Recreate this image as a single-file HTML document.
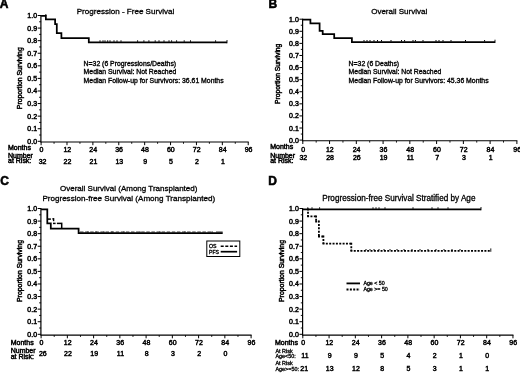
<!DOCTYPE html>
<html lang="en">
<head>
<meta charset="utf-8">
<title>Survival curves</title>
<style>
html,body{margin:0;padding:0;background:#fff;}
body{width:520px;height:373px;overflow:hidden;}
svg{display:block;font-family:'Liberation Sans', 'DejaVu Sans', sans-serif;fill:#000;}
</style>
</head>
<body>
<svg width="520" height="373" viewBox="0 0 520 373">
<rect x="0" y="0" width="520" height="373" fill="#fff"/>
<g id="panelA">
<text transform="translate(-0.20 8.30) scale(1.0 1)" font-size="12.000" text-anchor="start" font-weight="bold" stroke="#000" stroke-width="0.55" >A</text>
<text transform="translate(125.50 14.30) scale(1.0 1)" font-size="8.050" text-anchor="middle" font-weight="normal" stroke="#000" stroke-width="0.3" >Progression - Free Survival</text>
<line x1="40.90" y1="15.00" x2="40.90" y2="142.50" stroke="#000" stroke-width="1.2" />
<line x1="40.60" y1="142.00" x2="248.72" y2="142.00" stroke="#000" stroke-width="1.1" />
<line x1="37.70" y1="141.30" x2="41.10" y2="141.30" stroke="#000" stroke-width="1.0" />
<text transform="translate(37.10 143.80) scale(1.05 1)" font-size="6.667" text-anchor="end" font-weight="normal" stroke="#000" stroke-width="0.45" >0.0</text>
<line x1="39.10" y1="135.01" x2="41.10" y2="135.01" stroke="#000" stroke-width="0.9" />
<line x1="37.70" y1="128.72" x2="41.10" y2="128.72" stroke="#000" stroke-width="1.0" />
<text transform="translate(37.10 131.22) scale(1.05 1)" font-size="6.667" text-anchor="end" font-weight="normal" stroke="#000" stroke-width="0.45" >0.1</text>
<line x1="39.10" y1="122.43" x2="41.10" y2="122.43" stroke="#000" stroke-width="0.9" />
<line x1="37.70" y1="116.14" x2="41.10" y2="116.14" stroke="#000" stroke-width="1.0" />
<text transform="translate(37.10 118.64) scale(1.05 1)" font-size="6.667" text-anchor="end" font-weight="normal" stroke="#000" stroke-width="0.45" >0.2</text>
<line x1="39.10" y1="109.85" x2="41.10" y2="109.85" stroke="#000" stroke-width="0.9" />
<line x1="37.70" y1="103.56" x2="41.10" y2="103.56" stroke="#000" stroke-width="1.0" />
<text transform="translate(37.10 106.06) scale(1.05 1)" font-size="6.667" text-anchor="end" font-weight="normal" stroke="#000" stroke-width="0.45" >0.3</text>
<line x1="39.10" y1="97.27" x2="41.10" y2="97.27" stroke="#000" stroke-width="0.9" />
<line x1="37.70" y1="90.98" x2="41.10" y2="90.98" stroke="#000" stroke-width="1.0" />
<text transform="translate(37.10 93.48) scale(1.05 1)" font-size="6.667" text-anchor="end" font-weight="normal" stroke="#000" stroke-width="0.45" >0.4</text>
<line x1="39.10" y1="84.69" x2="41.10" y2="84.69" stroke="#000" stroke-width="0.9" />
<line x1="37.70" y1="78.40" x2="41.10" y2="78.40" stroke="#000" stroke-width="1.0" />
<text transform="translate(37.10 80.90) scale(1.05 1)" font-size="6.667" text-anchor="end" font-weight="normal" stroke="#000" stroke-width="0.45" >0.5</text>
<line x1="39.10" y1="72.11" x2="41.10" y2="72.11" stroke="#000" stroke-width="0.9" />
<line x1="37.70" y1="65.82" x2="41.10" y2="65.82" stroke="#000" stroke-width="1.0" />
<text transform="translate(37.10 68.32) scale(1.05 1)" font-size="6.667" text-anchor="end" font-weight="normal" stroke="#000" stroke-width="0.45" >0.6</text>
<line x1="39.10" y1="59.53" x2="41.10" y2="59.53" stroke="#000" stroke-width="0.9" />
<line x1="37.70" y1="53.24" x2="41.10" y2="53.24" stroke="#000" stroke-width="1.0" />
<text transform="translate(37.10 55.74) scale(1.05 1)" font-size="6.667" text-anchor="end" font-weight="normal" stroke="#000" stroke-width="0.45" >0.7</text>
<line x1="39.10" y1="46.95" x2="41.10" y2="46.95" stroke="#000" stroke-width="0.9" />
<line x1="37.70" y1="40.66" x2="41.10" y2="40.66" stroke="#000" stroke-width="1.0" />
<text transform="translate(37.10 43.16) scale(1.05 1)" font-size="6.667" text-anchor="end" font-weight="normal" stroke="#000" stroke-width="0.45" >0.8</text>
<line x1="39.10" y1="34.37" x2="41.10" y2="34.37" stroke="#000" stroke-width="0.9" />
<line x1="37.70" y1="28.08" x2="41.10" y2="28.08" stroke="#000" stroke-width="1.0" />
<text transform="translate(37.10 30.58) scale(1.05 1)" font-size="6.667" text-anchor="end" font-weight="normal" stroke="#000" stroke-width="0.45" >0.9</text>
<line x1="39.10" y1="21.79" x2="41.10" y2="21.79" stroke="#000" stroke-width="0.9" />
<line x1="37.70" y1="15.50" x2="41.10" y2="15.50" stroke="#000" stroke-width="1.0" />
<text transform="translate(37.10 18.00) scale(1.05 1)" font-size="6.667" text-anchor="end" font-weight="normal" stroke="#000" stroke-width="0.45" >1.0</text>
<line x1="41.10" y1="142.00" x2="41.10" y2="145.20" stroke="#000" stroke-width="1.0" />
<text transform="translate(41.40 152.00) scale(1.05 1)" font-size="6.667" text-anchor="middle" font-weight="normal" stroke="#000" stroke-width="0.45" >0</text>
<line x1="54.05" y1="142.00" x2="54.05" y2="143.80" stroke="#000" stroke-width="0.9" />
<line x1="66.99" y1="142.00" x2="66.99" y2="145.20" stroke="#000" stroke-width="1.0" />
<text transform="translate(67.29 152.00) scale(1.05 1)" font-size="6.667" text-anchor="middle" font-weight="normal" stroke="#000" stroke-width="0.45" >12</text>
<line x1="79.94" y1="142.00" x2="79.94" y2="143.80" stroke="#000" stroke-width="0.9" />
<line x1="92.88" y1="142.00" x2="92.88" y2="145.20" stroke="#000" stroke-width="1.0" />
<text transform="translate(93.18 152.00) scale(1.05 1)" font-size="6.667" text-anchor="middle" font-weight="normal" stroke="#000" stroke-width="0.45" >24</text>
<line x1="105.82" y1="142.00" x2="105.82" y2="143.80" stroke="#000" stroke-width="0.9" />
<line x1="118.77" y1="142.00" x2="118.77" y2="145.20" stroke="#000" stroke-width="1.0" />
<text transform="translate(119.07 152.00) scale(1.05 1)" font-size="6.667" text-anchor="middle" font-weight="normal" stroke="#000" stroke-width="0.45" >36</text>
<line x1="131.72" y1="142.00" x2="131.72" y2="143.80" stroke="#000" stroke-width="0.9" />
<line x1="144.66" y1="142.00" x2="144.66" y2="145.20" stroke="#000" stroke-width="1.0" />
<text transform="translate(144.96 152.00) scale(1.05 1)" font-size="6.667" text-anchor="middle" font-weight="normal" stroke="#000" stroke-width="0.45" >48</text>
<line x1="157.60" y1="142.00" x2="157.60" y2="143.80" stroke="#000" stroke-width="0.9" />
<line x1="170.55" y1="142.00" x2="170.55" y2="145.20" stroke="#000" stroke-width="1.0" />
<text transform="translate(170.85 152.00) scale(1.05 1)" font-size="6.667" text-anchor="middle" font-weight="normal" stroke="#000" stroke-width="0.45" >60</text>
<line x1="183.49" y1="142.00" x2="183.49" y2="143.80" stroke="#000" stroke-width="0.9" />
<line x1="196.44" y1="142.00" x2="196.44" y2="145.20" stroke="#000" stroke-width="1.0" />
<text transform="translate(196.74 152.00) scale(1.05 1)" font-size="6.667" text-anchor="middle" font-weight="normal" stroke="#000" stroke-width="0.45" >72</text>
<line x1="209.38" y1="142.00" x2="209.38" y2="143.80" stroke="#000" stroke-width="0.9" />
<line x1="222.33" y1="142.00" x2="222.33" y2="145.20" stroke="#000" stroke-width="1.0" />
<text transform="translate(222.63 152.00) scale(1.05 1)" font-size="6.667" text-anchor="middle" font-weight="normal" stroke="#000" stroke-width="0.45" >84</text>
<line x1="235.28" y1="142.00" x2="235.28" y2="143.80" stroke="#000" stroke-width="0.9" />
<line x1="248.22" y1="142.00" x2="248.22" y2="145.20" stroke="#000" stroke-width="1.0" />
<text transform="translate(248.52 152.00) scale(1.05 1)" font-size="6.667" text-anchor="middle" font-weight="normal" stroke="#000" stroke-width="0.45" >96</text>
<text transform="translate(22.00 78.20) rotate(-90) scale(1.05 1)" font-size="6.571" text-anchor="middle" stroke="#000" stroke-width="0.45">Proportion Surviving</text>
<path d="M41.10 15.85 L45.85 15.85 L45.85 19.40 L55.10 19.40 L55.10 24.15 L56.80 24.15 L56.80 33.20 L61.40 33.20 L61.40 38.00 L88.80 38.00 L88.80 42.30 L227.00 42.30" fill="none" stroke="#000" stroke-width="1.75" stroke-linejoin="miter" />
<line x1="45.85" y1="14.00" x2="45.85" y2="15.85" stroke="#000" stroke-width="0.9" />
<line x1="100.00" y1="40.30" x2="100.00" y2="41.80" stroke="#000" stroke-width="1.0" />
<line x1="103.00" y1="40.30" x2="103.00" y2="41.80" stroke="#000" stroke-width="1.0" />
<line x1="105.00" y1="40.30" x2="105.00" y2="41.80" stroke="#000" stroke-width="1.0" />
<line x1="107.70" y1="40.30" x2="107.70" y2="41.80" stroke="#000" stroke-width="1.0" />
<line x1="110.00" y1="40.30" x2="110.00" y2="41.80" stroke="#000" stroke-width="1.0" />
<line x1="114.00" y1="40.30" x2="114.00" y2="41.80" stroke="#000" stroke-width="1.0" />
<line x1="117.00" y1="40.30" x2="117.00" y2="41.80" stroke="#000" stroke-width="1.0" />
<line x1="121.00" y1="40.30" x2="121.00" y2="41.80" stroke="#000" stroke-width="1.0" />
<line x1="137.60" y1="40.30" x2="137.60" y2="41.80" stroke="#000" stroke-width="1.0" />
<line x1="143.90" y1="40.30" x2="143.90" y2="41.80" stroke="#000" stroke-width="1.0" />
<line x1="148.90" y1="40.30" x2="148.90" y2="41.80" stroke="#000" stroke-width="1.0" />
<line x1="155.20" y1="40.30" x2="155.20" y2="41.80" stroke="#000" stroke-width="1.0" />
<line x1="159.00" y1="40.30" x2="159.00" y2="41.80" stroke="#000" stroke-width="1.0" />
<line x1="164.00" y1="40.30" x2="164.00" y2="41.80" stroke="#000" stroke-width="1.0" />
<line x1="169.00" y1="40.30" x2="169.00" y2="41.80" stroke="#000" stroke-width="1.0" />
<line x1="171.60" y1="40.30" x2="171.60" y2="41.80" stroke="#000" stroke-width="1.0" />
<line x1="176.60" y1="40.30" x2="176.60" y2="41.80" stroke="#000" stroke-width="1.0" />
<line x1="184.20" y1="40.30" x2="184.20" y2="41.80" stroke="#000" stroke-width="1.0" />
<line x1="190.50" y1="40.30" x2="190.50" y2="41.80" stroke="#000" stroke-width="1.0" />
<line x1="215.60" y1="40.30" x2="215.60" y2="41.80" stroke="#000" stroke-width="1.0" />
<line x1="227.00" y1="40.00" x2="227.00" y2="43.30" stroke="#000" stroke-width="0.9" />
<text transform="translate(83.60 66.20) scale(1.05 1)" font-size="6.552" text-anchor="start" font-weight="normal" stroke="#000" stroke-width="0.32" >N=32 (6 Progressions/Deaths)</text>
<text transform="translate(83.60 74.40) scale(1.05 1)" font-size="6.552" text-anchor="start" font-weight="normal" stroke="#000" stroke-width="0.32" >Median Survival: Not Reached</text>
<text transform="translate(83.60 82.60) scale(1.05 1)" font-size="6.552" text-anchor="start" font-weight="normal" stroke="#000" stroke-width="0.32" >Median Follow-up for Survivors: 36.61 Months</text>
<text transform="translate(8.00 150.00) scale(1.05 1)" font-size="6.667" text-anchor="start" font-weight="normal" stroke="#000" stroke-width="0.45" >Months</text>
<text transform="translate(8.00 158.00) scale(1.05 1)" font-size="6.667" text-anchor="start" font-weight="normal" stroke="#000" stroke-width="0.45" >Number</text>
<text transform="translate(8.00 163.00) scale(1.05 1)" font-size="6.667" text-anchor="start" font-weight="normal" stroke="#000" stroke-width="0.45" >at Risk:</text>
<text transform="translate(42.60 164.00) scale(1.05 1)" font-size="6.667" text-anchor="middle" font-weight="normal" stroke="#000" stroke-width="0.45" >32</text>
<text transform="translate(67.49 164.00) scale(1.05 1)" font-size="6.667" text-anchor="middle" font-weight="normal" stroke="#000" stroke-width="0.45" >22</text>
<text transform="translate(93.38 164.00) scale(1.05 1)" font-size="6.667" text-anchor="middle" font-weight="normal" stroke="#000" stroke-width="0.45" >21</text>
<text transform="translate(119.27 164.00) scale(1.05 1)" font-size="6.667" text-anchor="middle" font-weight="normal" stroke="#000" stroke-width="0.45" >13</text>
<text transform="translate(145.16 164.00) scale(1.05 1)" font-size="6.667" text-anchor="middle" font-weight="normal" stroke="#000" stroke-width="0.45" >9</text>
<text transform="translate(171.05 164.00) scale(1.05 1)" font-size="6.667" text-anchor="middle" font-weight="normal" stroke="#000" stroke-width="0.45" >5</text>
<text transform="translate(196.94 164.00) scale(1.05 1)" font-size="6.667" text-anchor="middle" font-weight="normal" stroke="#000" stroke-width="0.45" >2</text>
<text transform="translate(222.83 164.00) scale(1.05 1)" font-size="6.667" text-anchor="middle" font-weight="normal" stroke="#000" stroke-width="0.45" >1</text>
</g>
<g id="panelB">
<text transform="translate(268.50 8.30) scale(1.0 1)" font-size="12.000" text-anchor="start" font-weight="bold" stroke="#000" stroke-width="0.55" >B</text>
<text transform="translate(399.20 14.30) scale(1.0 1)" font-size="8.000" text-anchor="middle" font-weight="normal" stroke="#000" stroke-width="0.3" >Overall Survival</text>
<line x1="302.60" y1="18.70" x2="302.60" y2="141.30" stroke="#000" stroke-width="1.2" />
<line x1="302.30" y1="140.80" x2="517.38" y2="140.80" stroke="#000" stroke-width="1.1" />
<line x1="299.40" y1="140.10" x2="302.80" y2="140.10" stroke="#000" stroke-width="1.0" />
<text transform="translate(298.80 142.60) scale(1.05 1)" font-size="6.667" text-anchor="end" font-weight="normal" stroke="#000" stroke-width="0.45" >0.0</text>
<line x1="300.80" y1="134.06" x2="302.80" y2="134.06" stroke="#000" stroke-width="0.9" />
<line x1="299.40" y1="128.01" x2="302.80" y2="128.01" stroke="#000" stroke-width="1.0" />
<text transform="translate(298.80 130.51) scale(1.05 1)" font-size="6.667" text-anchor="end" font-weight="normal" stroke="#000" stroke-width="0.45" >0.1</text>
<line x1="300.80" y1="121.96" x2="302.80" y2="121.96" stroke="#000" stroke-width="0.9" />
<line x1="299.40" y1="115.92" x2="302.80" y2="115.92" stroke="#000" stroke-width="1.0" />
<text transform="translate(298.80 118.42) scale(1.05 1)" font-size="6.667" text-anchor="end" font-weight="normal" stroke="#000" stroke-width="0.45" >0.2</text>
<line x1="300.80" y1="109.87" x2="302.80" y2="109.87" stroke="#000" stroke-width="0.9" />
<line x1="299.40" y1="103.83" x2="302.80" y2="103.83" stroke="#000" stroke-width="1.0" />
<text transform="translate(298.80 106.33) scale(1.05 1)" font-size="6.667" text-anchor="end" font-weight="normal" stroke="#000" stroke-width="0.45" >0.3</text>
<line x1="300.80" y1="97.78" x2="302.80" y2="97.78" stroke="#000" stroke-width="0.9" />
<line x1="299.40" y1="91.74" x2="302.80" y2="91.74" stroke="#000" stroke-width="1.0" />
<text transform="translate(298.80 94.24) scale(1.05 1)" font-size="6.667" text-anchor="end" font-weight="normal" stroke="#000" stroke-width="0.45" >0.4</text>
<line x1="300.80" y1="85.69" x2="302.80" y2="85.69" stroke="#000" stroke-width="0.9" />
<line x1="299.40" y1="79.65" x2="302.80" y2="79.65" stroke="#000" stroke-width="1.0" />
<text transform="translate(298.80 82.15) scale(1.05 1)" font-size="6.667" text-anchor="end" font-weight="normal" stroke="#000" stroke-width="0.45" >0.5</text>
<line x1="300.80" y1="73.60" x2="302.80" y2="73.60" stroke="#000" stroke-width="0.9" />
<line x1="299.40" y1="67.56" x2="302.80" y2="67.56" stroke="#000" stroke-width="1.0" />
<text transform="translate(298.80 70.06) scale(1.05 1)" font-size="6.667" text-anchor="end" font-weight="normal" stroke="#000" stroke-width="0.45" >0.6</text>
<line x1="300.80" y1="61.52" x2="302.80" y2="61.52" stroke="#000" stroke-width="0.9" />
<line x1="299.40" y1="55.47" x2="302.80" y2="55.47" stroke="#000" stroke-width="1.0" />
<text transform="translate(298.80 57.97) scale(1.05 1)" font-size="6.667" text-anchor="end" font-weight="normal" stroke="#000" stroke-width="0.45" >0.7</text>
<line x1="300.80" y1="49.42" x2="302.80" y2="49.42" stroke="#000" stroke-width="0.9" />
<line x1="299.40" y1="43.38" x2="302.80" y2="43.38" stroke="#000" stroke-width="1.0" />
<text transform="translate(298.80 45.88) scale(1.05 1)" font-size="6.667" text-anchor="end" font-weight="normal" stroke="#000" stroke-width="0.45" >0.8</text>
<line x1="300.80" y1="37.33" x2="302.80" y2="37.33" stroke="#000" stroke-width="0.9" />
<line x1="299.40" y1="31.29" x2="302.80" y2="31.29" stroke="#000" stroke-width="1.0" />
<text transform="translate(298.80 33.79) scale(1.05 1)" font-size="6.667" text-anchor="end" font-weight="normal" stroke="#000" stroke-width="0.45" >0.9</text>
<line x1="300.80" y1="25.24" x2="302.80" y2="25.24" stroke="#000" stroke-width="0.9" />
<line x1="299.40" y1="19.20" x2="302.80" y2="19.20" stroke="#000" stroke-width="1.0" />
<text transform="translate(298.80 21.70) scale(1.05 1)" font-size="6.667" text-anchor="end" font-weight="normal" stroke="#000" stroke-width="0.45" >1.0</text>
<line x1="302.80" y1="140.80" x2="302.80" y2="144.00" stroke="#000" stroke-width="1.0" />
<text transform="translate(303.10 152.00) scale(1.05 1)" font-size="6.667" text-anchor="middle" font-weight="normal" stroke="#000" stroke-width="0.45" >0</text>
<line x1="316.18" y1="140.80" x2="316.18" y2="142.60" stroke="#000" stroke-width="0.9" />
<line x1="329.56" y1="140.80" x2="329.56" y2="144.00" stroke="#000" stroke-width="1.0" />
<text transform="translate(329.86 152.00) scale(1.05 1)" font-size="6.667" text-anchor="middle" font-weight="normal" stroke="#000" stroke-width="0.45" >12</text>
<line x1="342.94" y1="140.80" x2="342.94" y2="142.60" stroke="#000" stroke-width="0.9" />
<line x1="356.32" y1="140.80" x2="356.32" y2="144.00" stroke="#000" stroke-width="1.0" />
<text transform="translate(356.62 152.00) scale(1.05 1)" font-size="6.667" text-anchor="middle" font-weight="normal" stroke="#000" stroke-width="0.45" >24</text>
<line x1="369.70" y1="140.80" x2="369.70" y2="142.60" stroke="#000" stroke-width="0.9" />
<line x1="383.08" y1="140.80" x2="383.08" y2="144.00" stroke="#000" stroke-width="1.0" />
<text transform="translate(383.38 152.00) scale(1.05 1)" font-size="6.667" text-anchor="middle" font-weight="normal" stroke="#000" stroke-width="0.45" >36</text>
<line x1="396.46" y1="140.80" x2="396.46" y2="142.60" stroke="#000" stroke-width="0.9" />
<line x1="409.84" y1="140.80" x2="409.84" y2="144.00" stroke="#000" stroke-width="1.0" />
<text transform="translate(410.14 152.00) scale(1.05 1)" font-size="6.667" text-anchor="middle" font-weight="normal" stroke="#000" stroke-width="0.45" >48</text>
<line x1="423.22" y1="140.80" x2="423.22" y2="142.60" stroke="#000" stroke-width="0.9" />
<line x1="436.60" y1="140.80" x2="436.60" y2="144.00" stroke="#000" stroke-width="1.0" />
<text transform="translate(436.90 152.00) scale(1.05 1)" font-size="6.667" text-anchor="middle" font-weight="normal" stroke="#000" stroke-width="0.45" >60</text>
<line x1="449.98" y1="140.80" x2="449.98" y2="142.60" stroke="#000" stroke-width="0.9" />
<line x1="463.36" y1="140.80" x2="463.36" y2="144.00" stroke="#000" stroke-width="1.0" />
<text transform="translate(463.66 152.00) scale(1.05 1)" font-size="6.667" text-anchor="middle" font-weight="normal" stroke="#000" stroke-width="0.45" >72</text>
<line x1="476.74" y1="140.80" x2="476.74" y2="142.60" stroke="#000" stroke-width="0.9" />
<line x1="490.12" y1="140.80" x2="490.12" y2="144.00" stroke="#000" stroke-width="1.0" />
<text transform="translate(490.42 152.00) scale(1.05 1)" font-size="6.667" text-anchor="middle" font-weight="normal" stroke="#000" stroke-width="0.45" >84</text>
<line x1="503.50" y1="140.80" x2="503.50" y2="142.60" stroke="#000" stroke-width="0.9" />
<line x1="516.88" y1="140.80" x2="516.88" y2="144.00" stroke="#000" stroke-width="1.0" />
<text transform="translate(517.18 152.00) scale(1.05 1)" font-size="6.667" text-anchor="middle" font-weight="normal" stroke="#000" stroke-width="0.45" >96</text>
<text transform="translate(280.30 73.80) rotate(-90) scale(1.05 1)" font-size="6.381" text-anchor="middle" stroke="#000" stroke-width="0.45">Proportion Surviving</text>
<path d="M302.80 19.55 L310.40 19.55 L310.40 23.40 L319.60 23.40 L319.60 30.80 L322.70 30.80 L322.70 34.20 L334.20 34.20 L334.20 38.20 L351.90 38.20 L351.90 42.00 L495.00 42.00" fill="none" stroke="#000" stroke-width="1.75" stroke-linejoin="miter" />
<line x1="364.00" y1="40.00" x2="364.00" y2="41.50" stroke="#000" stroke-width="1.0" />
<line x1="367.00" y1="40.00" x2="367.00" y2="41.50" stroke="#000" stroke-width="1.0" />
<line x1="370.00" y1="40.00" x2="370.00" y2="41.50" stroke="#000" stroke-width="1.0" />
<line x1="374.00" y1="40.00" x2="374.00" y2="41.50" stroke="#000" stroke-width="1.0" />
<line x1="377.50" y1="40.00" x2="377.50" y2="41.50" stroke="#000" stroke-width="1.0" />
<line x1="381.50" y1="40.00" x2="381.50" y2="41.50" stroke="#000" stroke-width="1.0" />
<line x1="391.00" y1="40.00" x2="391.00" y2="41.50" stroke="#000" stroke-width="1.0" />
<line x1="401.50" y1="40.00" x2="401.50" y2="41.50" stroke="#000" stroke-width="1.0" />
<line x1="404.60" y1="40.00" x2="404.60" y2="41.50" stroke="#000" stroke-width="1.0" />
<line x1="413.00" y1="40.00" x2="413.00" y2="41.50" stroke="#000" stroke-width="1.0" />
<line x1="415.40" y1="40.00" x2="415.40" y2="41.50" stroke="#000" stroke-width="1.0" />
<line x1="423.00" y1="40.00" x2="423.00" y2="41.50" stroke="#000" stroke-width="1.0" />
<line x1="436.00" y1="40.00" x2="436.00" y2="41.50" stroke="#000" stroke-width="1.0" />
<line x1="439.00" y1="40.00" x2="439.00" y2="41.50" stroke="#000" stroke-width="1.0" />
<line x1="443.00" y1="40.00" x2="443.00" y2="41.50" stroke="#000" stroke-width="1.0" />
<line x1="451.00" y1="40.00" x2="451.00" y2="41.50" stroke="#000" stroke-width="1.0" />
<line x1="465.50" y1="40.00" x2="465.50" y2="41.50" stroke="#000" stroke-width="1.0" />
<line x1="484.60" y1="40.00" x2="484.60" y2="41.50" stroke="#000" stroke-width="1.0" />
<line x1="495.00" y1="39.70" x2="495.00" y2="43.00" stroke="#000" stroke-width="0.9" />
<text transform="translate(348.60 66.20) scale(1.05 1)" font-size="6.552" text-anchor="start" font-weight="normal" stroke="#000" stroke-width="0.32" >N=32 (6 Deaths)</text>
<text transform="translate(348.60 74.40) scale(1.05 1)" font-size="6.552" text-anchor="start" font-weight="normal" stroke="#000" stroke-width="0.32" >Median Survival: Not Reached</text>
<text transform="translate(348.60 82.60) scale(1.05 1)" font-size="6.552" text-anchor="start" font-weight="normal" stroke="#000" stroke-width="0.32" >Median Follow-up for Survivors: 45.36 Months</text>
<text transform="translate(270.20 149.00) scale(1.05 1)" font-size="6.667" text-anchor="start" font-weight="normal" stroke="#000" stroke-width="0.45" >Months</text>
<text transform="translate(270.20 158.00) scale(1.05 1)" font-size="6.667" text-anchor="start" font-weight="normal" stroke="#000" stroke-width="0.45" >Number</text>
<text transform="translate(270.20 163.00) scale(1.05 1)" font-size="6.667" text-anchor="start" font-weight="normal" stroke="#000" stroke-width="0.45" >at Risk:</text>
<text transform="translate(303.30 160.00) scale(1.05 1)" font-size="6.667" text-anchor="middle" font-weight="normal" stroke="#000" stroke-width="0.45" >32</text>
<text transform="translate(330.06 160.00) scale(1.05 1)" font-size="6.667" text-anchor="middle" font-weight="normal" stroke="#000" stroke-width="0.45" >28</text>
<text transform="translate(356.82 160.00) scale(1.05 1)" font-size="6.667" text-anchor="middle" font-weight="normal" stroke="#000" stroke-width="0.45" >26</text>
<text transform="translate(383.58 160.00) scale(1.05 1)" font-size="6.667" text-anchor="middle" font-weight="normal" stroke="#000" stroke-width="0.45" >19</text>
<text transform="translate(410.34 160.00) scale(1.05 1)" font-size="6.667" text-anchor="middle" font-weight="normal" stroke="#000" stroke-width="0.45" >11</text>
<text transform="translate(437.10 160.00) scale(1.05 1)" font-size="6.667" text-anchor="middle" font-weight="normal" stroke="#000" stroke-width="0.45" >7</text>
<text transform="translate(463.86 160.00) scale(1.05 1)" font-size="6.667" text-anchor="middle" font-weight="normal" stroke="#000" stroke-width="0.45" >3</text>
<text transform="translate(490.62 160.00) scale(1.05 1)" font-size="6.667" text-anchor="middle" font-weight="normal" stroke="#000" stroke-width="0.45" >1</text>
</g>
<g id="panelC">
<text transform="translate(0.20 185.20) scale(1.0 1)" font-size="12.000" text-anchor="start" font-weight="bold" stroke="#000" stroke-width="0.55" >C</text>
<text transform="translate(128.70 190.50) scale(1.0 1)" font-size="8.000" text-anchor="middle" font-weight="normal" stroke="#000" stroke-width="0.3" >Overall Survival (Among Transplanted)</text>
<text transform="translate(128.80 200.50) scale(1.0 1)" font-size="8.080" text-anchor="middle" font-weight="normal" stroke="#000" stroke-width="0.3" >Progression-free Survival (Among Transplanted)</text>
<line x1="40.90" y1="208.00" x2="40.90" y2="335.60" stroke="#000" stroke-width="1.2" />
<line x1="40.60" y1="335.10" x2="251.60" y2="335.10" stroke="#000" stroke-width="1.1" />
<line x1="37.70" y1="334.30" x2="41.10" y2="334.30" stroke="#000" stroke-width="1.0" />
<text transform="translate(37.10 336.80) scale(1.05 1)" font-size="6.667" text-anchor="end" font-weight="normal" stroke="#000" stroke-width="0.45" >0.0</text>
<line x1="39.10" y1="328.01" x2="41.10" y2="328.01" stroke="#000" stroke-width="0.9" />
<line x1="37.70" y1="321.72" x2="41.10" y2="321.72" stroke="#000" stroke-width="1.0" />
<text transform="translate(37.10 324.22) scale(1.05 1)" font-size="6.667" text-anchor="end" font-weight="normal" stroke="#000" stroke-width="0.45" >0.1</text>
<line x1="39.10" y1="315.43" x2="41.10" y2="315.43" stroke="#000" stroke-width="0.9" />
<line x1="37.70" y1="309.14" x2="41.10" y2="309.14" stroke="#000" stroke-width="1.0" />
<text transform="translate(37.10 311.64) scale(1.05 1)" font-size="6.667" text-anchor="end" font-weight="normal" stroke="#000" stroke-width="0.45" >0.2</text>
<line x1="39.10" y1="302.85" x2="41.10" y2="302.85" stroke="#000" stroke-width="0.9" />
<line x1="37.70" y1="296.56" x2="41.10" y2="296.56" stroke="#000" stroke-width="1.0" />
<text transform="translate(37.10 299.06) scale(1.05 1)" font-size="6.667" text-anchor="end" font-weight="normal" stroke="#000" stroke-width="0.45" >0.3</text>
<line x1="39.10" y1="290.27" x2="41.10" y2="290.27" stroke="#000" stroke-width="0.9" />
<line x1="37.70" y1="283.98" x2="41.10" y2="283.98" stroke="#000" stroke-width="1.0" />
<text transform="translate(37.10 286.48) scale(1.05 1)" font-size="6.667" text-anchor="end" font-weight="normal" stroke="#000" stroke-width="0.45" >0.4</text>
<line x1="39.10" y1="277.69" x2="41.10" y2="277.69" stroke="#000" stroke-width="0.9" />
<line x1="37.70" y1="271.40" x2="41.10" y2="271.40" stroke="#000" stroke-width="1.0" />
<text transform="translate(37.10 273.90) scale(1.05 1)" font-size="6.667" text-anchor="end" font-weight="normal" stroke="#000" stroke-width="0.45" >0.5</text>
<line x1="39.10" y1="265.11" x2="41.10" y2="265.11" stroke="#000" stroke-width="0.9" />
<line x1="37.70" y1="258.82" x2="41.10" y2="258.82" stroke="#000" stroke-width="1.0" />
<text transform="translate(37.10 261.32) scale(1.05 1)" font-size="6.667" text-anchor="end" font-weight="normal" stroke="#000" stroke-width="0.45" >0.6</text>
<line x1="39.10" y1="252.53" x2="41.10" y2="252.53" stroke="#000" stroke-width="0.9" />
<line x1="37.70" y1="246.24" x2="41.10" y2="246.24" stroke="#000" stroke-width="1.0" />
<text transform="translate(37.10 248.74) scale(1.05 1)" font-size="6.667" text-anchor="end" font-weight="normal" stroke="#000" stroke-width="0.45" >0.7</text>
<line x1="39.10" y1="239.95" x2="41.10" y2="239.95" stroke="#000" stroke-width="0.9" />
<line x1="37.70" y1="233.66" x2="41.10" y2="233.66" stroke="#000" stroke-width="1.0" />
<text transform="translate(37.10 236.16) scale(1.05 1)" font-size="6.667" text-anchor="end" font-weight="normal" stroke="#000" stroke-width="0.45" >0.8</text>
<line x1="39.10" y1="227.37" x2="41.10" y2="227.37" stroke="#000" stroke-width="0.9" />
<line x1="37.70" y1="221.08" x2="41.10" y2="221.08" stroke="#000" stroke-width="1.0" />
<text transform="translate(37.10 223.58) scale(1.05 1)" font-size="6.667" text-anchor="end" font-weight="normal" stroke="#000" stroke-width="0.45" >0.9</text>
<line x1="39.10" y1="214.79" x2="41.10" y2="214.79" stroke="#000" stroke-width="0.9" />
<line x1="37.70" y1="208.50" x2="41.10" y2="208.50" stroke="#000" stroke-width="1.0" />
<text transform="translate(37.10 211.00) scale(1.05 1)" font-size="6.667" text-anchor="end" font-weight="normal" stroke="#000" stroke-width="0.45" >1.0</text>
<line x1="41.10" y1="335.10" x2="41.10" y2="338.30" stroke="#000" stroke-width="1.0" />
<text transform="translate(41.40 345.00) scale(1.05 1)" font-size="6.667" text-anchor="middle" font-weight="normal" stroke="#000" stroke-width="0.45" >0</text>
<line x1="54.23" y1="335.10" x2="54.23" y2="336.90" stroke="#000" stroke-width="0.9" />
<line x1="67.35" y1="335.10" x2="67.35" y2="338.30" stroke="#000" stroke-width="1.0" />
<text transform="translate(67.65 345.00) scale(1.05 1)" font-size="6.667" text-anchor="middle" font-weight="normal" stroke="#000" stroke-width="0.45" >12</text>
<line x1="80.47" y1="335.10" x2="80.47" y2="336.90" stroke="#000" stroke-width="0.9" />
<line x1="93.60" y1="335.10" x2="93.60" y2="338.30" stroke="#000" stroke-width="1.0" />
<text transform="translate(93.90 345.00) scale(1.05 1)" font-size="6.667" text-anchor="middle" font-weight="normal" stroke="#000" stroke-width="0.45" >24</text>
<line x1="106.72" y1="335.10" x2="106.72" y2="336.90" stroke="#000" stroke-width="0.9" />
<line x1="119.85" y1="335.10" x2="119.85" y2="338.30" stroke="#000" stroke-width="1.0" />
<text transform="translate(120.15 345.00) scale(1.05 1)" font-size="6.667" text-anchor="middle" font-weight="normal" stroke="#000" stroke-width="0.45" >36</text>
<line x1="132.97" y1="335.10" x2="132.97" y2="336.90" stroke="#000" stroke-width="0.9" />
<line x1="146.10" y1="335.10" x2="146.10" y2="338.30" stroke="#000" stroke-width="1.0" />
<text transform="translate(146.40 345.00) scale(1.05 1)" font-size="6.667" text-anchor="middle" font-weight="normal" stroke="#000" stroke-width="0.45" >48</text>
<line x1="159.22" y1="335.10" x2="159.22" y2="336.90" stroke="#000" stroke-width="0.9" />
<line x1="172.35" y1="335.10" x2="172.35" y2="338.30" stroke="#000" stroke-width="1.0" />
<text transform="translate(172.65 345.00) scale(1.05 1)" font-size="6.667" text-anchor="middle" font-weight="normal" stroke="#000" stroke-width="0.45" >60</text>
<line x1="185.47" y1="335.10" x2="185.47" y2="336.90" stroke="#000" stroke-width="0.9" />
<line x1="198.60" y1="335.10" x2="198.60" y2="338.30" stroke="#000" stroke-width="1.0" />
<text transform="translate(198.90 345.00) scale(1.05 1)" font-size="6.667" text-anchor="middle" font-weight="normal" stroke="#000" stroke-width="0.45" >72</text>
<line x1="211.72" y1="335.10" x2="211.72" y2="336.90" stroke="#000" stroke-width="0.9" />
<line x1="224.85" y1="335.10" x2="224.85" y2="338.30" stroke="#000" stroke-width="1.0" />
<text transform="translate(225.15 345.00) scale(1.05 1)" font-size="6.667" text-anchor="middle" font-weight="normal" stroke="#000" stroke-width="0.45" >84</text>
<line x1="237.97" y1="335.10" x2="237.97" y2="336.90" stroke="#000" stroke-width="0.9" />
<line x1="251.10" y1="335.10" x2="251.10" y2="338.30" stroke="#000" stroke-width="1.0" />
<text transform="translate(251.40 345.00) scale(1.05 1)" font-size="6.667" text-anchor="middle" font-weight="normal" stroke="#000" stroke-width="0.45" >96</text>
<text transform="translate(22.00 271.00) rotate(-90) scale(1.05 1)" font-size="6.571" text-anchor="middle" stroke="#000" stroke-width="0.45">Proportion Surviving</text>
<line x1="47.40" y1="219.10" x2="50.90" y2="219.10" stroke="#000" stroke-width="1.5" />
<line x1="52.30" y1="218.90" x2="53.60" y2="218.90" stroke="#000" stroke-width="1.2" />
<line x1="53.60" y1="218.10" x2="53.60" y2="221.20" stroke="#000" stroke-width="1.4" />
<line x1="53.00" y1="223.40" x2="55.60" y2="223.40" stroke="#000" stroke-width="1.5" />
<line x1="56.90" y1="223.40" x2="61.00" y2="223.40" stroke="#000" stroke-width="1.5" />
<line x1="61.70" y1="222.60" x2="61.70" y2="228.50" stroke="#000" stroke-width="1.5" />
<path d="M41.10 209.30 L47.30 209.30 L47.30 223.30 L50.80 223.30 L50.80 228.50 L78.60 228.50 L78.60 233.10 L222.70 233.10" fill="none" stroke="#000" stroke-width="1.75" stroke-linejoin="miter" />
<line x1="80.00" y1="231.95" x2="213.00" y2="231.95" stroke="#000" stroke-width="0.7" stroke-dasharray="3.5 1.6"/>
<line x1="216.00" y1="231.95" x2="222.70" y2="231.95" stroke="#000" stroke-width="0.7" />
<line x1="88.00" y1="231.30" x2="88.00" y2="232.60" stroke="#000" stroke-width="0.8" />
<line x1="96.00" y1="231.30" x2="96.00" y2="232.60" stroke="#000" stroke-width="0.8" />
<line x1="104.00" y1="231.30" x2="104.00" y2="232.60" stroke="#000" stroke-width="0.8" />
<line x1="112.00" y1="231.30" x2="112.00" y2="232.60" stroke="#000" stroke-width="0.8" />
<line x1="124.00" y1="231.30" x2="124.00" y2="232.60" stroke="#000" stroke-width="0.8" />
<line x1="140.00" y1="231.30" x2="140.00" y2="232.60" stroke="#000" stroke-width="0.8" />
<line x1="160.00" y1="231.30" x2="160.00" y2="232.60" stroke="#000" stroke-width="0.8" />
<line x1="185.00" y1="231.30" x2="185.00" y2="232.60" stroke="#000" stroke-width="0.8" />
<line x1="212.00" y1="231.30" x2="212.00" y2="232.60" stroke="#000" stroke-width="0.8" />
<rect x="206.8" y="241.0" width="33" height="15.5" fill="#fff" stroke="#000" stroke-width="1"/>
<text transform="translate(209.00 248.00) scale(1.05 1)" font-size="4.952" text-anchor="start" font-weight="normal" stroke="#000" stroke-width="0.3" >OS</text>
<text transform="translate(209.00 253.60) scale(1.05 1)" font-size="4.952" text-anchor="start" font-weight="normal" stroke="#000" stroke-width="0.3" >PFS</text>
<line x1="220.70" y1="246.30" x2="237.10" y2="246.30" stroke="#000" stroke-width="1.5" stroke-dasharray="3 1.6"/>
<line x1="220.70" y1="251.70" x2="237.10" y2="251.70" stroke="#000" stroke-width="1.7" />
<text transform="translate(10.70 345.00) scale(1.05 1)" font-size="6.667" text-anchor="start" font-weight="normal" stroke="#000" stroke-width="0.45" >Months</text>
<text transform="translate(10.70 353.00) scale(1.05 1)" font-size="6.667" text-anchor="start" font-weight="normal" stroke="#000" stroke-width="0.45" >Number</text>
<text transform="translate(10.70 359.00) scale(1.05 1)" font-size="6.667" text-anchor="start" font-weight="normal" stroke="#000" stroke-width="0.45" >at Risk:</text>
<text transform="translate(42.80 356.00) scale(1.05 1)" font-size="6.667" text-anchor="middle" font-weight="normal" stroke="#000" stroke-width="0.45" >26</text>
<text transform="translate(67.95 356.00) scale(1.05 1)" font-size="6.667" text-anchor="middle" font-weight="normal" stroke="#000" stroke-width="0.45" >22</text>
<text transform="translate(94.20 356.00) scale(1.05 1)" font-size="6.667" text-anchor="middle" font-weight="normal" stroke="#000" stroke-width="0.45" >19</text>
<text transform="translate(120.45 356.00) scale(1.05 1)" font-size="6.667" text-anchor="middle" font-weight="normal" stroke="#000" stroke-width="0.45" >11</text>
<text transform="translate(146.70 356.00) scale(1.05 1)" font-size="6.667" text-anchor="middle" font-weight="normal" stroke="#000" stroke-width="0.45" >8</text>
<text transform="translate(172.95 356.00) scale(1.05 1)" font-size="6.667" text-anchor="middle" font-weight="normal" stroke="#000" stroke-width="0.45" >3</text>
<text transform="translate(199.20 356.00) scale(1.05 1)" font-size="6.667" text-anchor="middle" font-weight="normal" stroke="#000" stroke-width="0.45" >2</text>
<text transform="translate(225.45 356.00) scale(1.05 1)" font-size="6.667" text-anchor="middle" font-weight="normal" stroke="#000" stroke-width="0.45" >0</text>
</g>
<g id="panelD">
<text transform="translate(268.20 185.20) scale(1.0 1)" font-size="12.000" text-anchor="start" font-weight="bold" stroke="#000" stroke-width="0.55" >D</text>
<text transform="translate(398.80 201.00) scale(1.0 1)" font-size="8.160" text-anchor="middle" font-weight="normal" stroke="#000" stroke-width="0.3" >Progression-free Survival Stratified by Age</text>
<line x1="302.60" y1="208.00" x2="302.60" y2="335.60" stroke="#000" stroke-width="1.2" />
<line x1="302.30" y1="335.10" x2="513.46" y2="335.10" stroke="#000" stroke-width="1.1" />
<line x1="299.40" y1="334.30" x2="302.80" y2="334.30" stroke="#000" stroke-width="1.0" />
<text transform="translate(298.80 336.80) scale(1.05 1)" font-size="6.667" text-anchor="end" font-weight="normal" stroke="#000" stroke-width="0.45" >0.0</text>
<line x1="300.80" y1="328.01" x2="302.80" y2="328.01" stroke="#000" stroke-width="0.9" />
<line x1="299.40" y1="321.72" x2="302.80" y2="321.72" stroke="#000" stroke-width="1.0" />
<text transform="translate(298.80 324.22) scale(1.05 1)" font-size="6.667" text-anchor="end" font-weight="normal" stroke="#000" stroke-width="0.45" >0.1</text>
<line x1="300.80" y1="315.43" x2="302.80" y2="315.43" stroke="#000" stroke-width="0.9" />
<line x1="299.40" y1="309.14" x2="302.80" y2="309.14" stroke="#000" stroke-width="1.0" />
<text transform="translate(298.80 311.64) scale(1.05 1)" font-size="6.667" text-anchor="end" font-weight="normal" stroke="#000" stroke-width="0.45" >0.2</text>
<line x1="300.80" y1="302.85" x2="302.80" y2="302.85" stroke="#000" stroke-width="0.9" />
<line x1="299.40" y1="296.56" x2="302.80" y2="296.56" stroke="#000" stroke-width="1.0" />
<text transform="translate(298.80 299.06) scale(1.05 1)" font-size="6.667" text-anchor="end" font-weight="normal" stroke="#000" stroke-width="0.45" >0.3</text>
<line x1="300.80" y1="290.27" x2="302.80" y2="290.27" stroke="#000" stroke-width="0.9" />
<line x1="299.40" y1="283.98" x2="302.80" y2="283.98" stroke="#000" stroke-width="1.0" />
<text transform="translate(298.80 286.48) scale(1.05 1)" font-size="6.667" text-anchor="end" font-weight="normal" stroke="#000" stroke-width="0.45" >0.4</text>
<line x1="300.80" y1="277.69" x2="302.80" y2="277.69" stroke="#000" stroke-width="0.9" />
<line x1="299.40" y1="271.40" x2="302.80" y2="271.40" stroke="#000" stroke-width="1.0" />
<text transform="translate(298.80 273.90) scale(1.05 1)" font-size="6.667" text-anchor="end" font-weight="normal" stroke="#000" stroke-width="0.45" >0.5</text>
<line x1="300.80" y1="265.11" x2="302.80" y2="265.11" stroke="#000" stroke-width="0.9" />
<line x1="299.40" y1="258.82" x2="302.80" y2="258.82" stroke="#000" stroke-width="1.0" />
<text transform="translate(298.80 261.32) scale(1.05 1)" font-size="6.667" text-anchor="end" font-weight="normal" stroke="#000" stroke-width="0.45" >0.6</text>
<line x1="300.80" y1="252.53" x2="302.80" y2="252.53" stroke="#000" stroke-width="0.9" />
<line x1="299.40" y1="246.24" x2="302.80" y2="246.24" stroke="#000" stroke-width="1.0" />
<text transform="translate(298.80 248.74) scale(1.05 1)" font-size="6.667" text-anchor="end" font-weight="normal" stroke="#000" stroke-width="0.45" >0.7</text>
<line x1="300.80" y1="239.95" x2="302.80" y2="239.95" stroke="#000" stroke-width="0.9" />
<line x1="299.40" y1="233.66" x2="302.80" y2="233.66" stroke="#000" stroke-width="1.0" />
<text transform="translate(298.80 236.16) scale(1.05 1)" font-size="6.667" text-anchor="end" font-weight="normal" stroke="#000" stroke-width="0.45" >0.8</text>
<line x1="300.80" y1="227.37" x2="302.80" y2="227.37" stroke="#000" stroke-width="0.9" />
<line x1="299.40" y1="221.08" x2="302.80" y2="221.08" stroke="#000" stroke-width="1.0" />
<text transform="translate(298.80 223.58) scale(1.05 1)" font-size="6.667" text-anchor="end" font-weight="normal" stroke="#000" stroke-width="0.45" >0.9</text>
<line x1="300.80" y1="214.79" x2="302.80" y2="214.79" stroke="#000" stroke-width="0.9" />
<line x1="299.40" y1="208.50" x2="302.80" y2="208.50" stroke="#000" stroke-width="1.0" />
<text transform="translate(298.80 211.00) scale(1.05 1)" font-size="6.667" text-anchor="end" font-weight="normal" stroke="#000" stroke-width="0.45" >1.0</text>
<line x1="302.80" y1="335.10" x2="302.80" y2="338.30" stroke="#000" stroke-width="1.0" />
<text transform="translate(303.10 345.00) scale(1.05 1)" font-size="6.667" text-anchor="middle" font-weight="normal" stroke="#000" stroke-width="0.45" >0</text>
<line x1="315.94" y1="335.10" x2="315.94" y2="336.90" stroke="#000" stroke-width="0.9" />
<line x1="329.07" y1="335.10" x2="329.07" y2="338.30" stroke="#000" stroke-width="1.0" />
<text transform="translate(329.37 345.00) scale(1.05 1)" font-size="6.667" text-anchor="middle" font-weight="normal" stroke="#000" stroke-width="0.45" >12</text>
<line x1="342.20" y1="335.10" x2="342.20" y2="336.90" stroke="#000" stroke-width="0.9" />
<line x1="355.34" y1="335.10" x2="355.34" y2="338.30" stroke="#000" stroke-width="1.0" />
<text transform="translate(355.64 345.00) scale(1.05 1)" font-size="6.667" text-anchor="middle" font-weight="normal" stroke="#000" stroke-width="0.45" >24</text>
<line x1="368.48" y1="335.10" x2="368.48" y2="336.90" stroke="#000" stroke-width="0.9" />
<line x1="381.61" y1="335.10" x2="381.61" y2="338.30" stroke="#000" stroke-width="1.0" />
<text transform="translate(381.91 345.00) scale(1.05 1)" font-size="6.667" text-anchor="middle" font-weight="normal" stroke="#000" stroke-width="0.45" >36</text>
<line x1="394.75" y1="335.10" x2="394.75" y2="336.90" stroke="#000" stroke-width="0.9" />
<line x1="407.88" y1="335.10" x2="407.88" y2="338.30" stroke="#000" stroke-width="1.0" />
<text transform="translate(408.18 345.00) scale(1.05 1)" font-size="6.667" text-anchor="middle" font-weight="normal" stroke="#000" stroke-width="0.45" >48</text>
<line x1="421.01" y1="335.10" x2="421.01" y2="336.90" stroke="#000" stroke-width="0.9" />
<line x1="434.15" y1="335.10" x2="434.15" y2="338.30" stroke="#000" stroke-width="1.0" />
<text transform="translate(434.45 345.00) scale(1.05 1)" font-size="6.667" text-anchor="middle" font-weight="normal" stroke="#000" stroke-width="0.45" >60</text>
<line x1="447.28" y1="335.10" x2="447.28" y2="336.90" stroke="#000" stroke-width="0.9" />
<line x1="460.42" y1="335.10" x2="460.42" y2="338.30" stroke="#000" stroke-width="1.0" />
<text transform="translate(460.72 345.00) scale(1.05 1)" font-size="6.667" text-anchor="middle" font-weight="normal" stroke="#000" stroke-width="0.45" >72</text>
<line x1="473.56" y1="335.10" x2="473.56" y2="336.90" stroke="#000" stroke-width="0.9" />
<line x1="486.69" y1="335.10" x2="486.69" y2="338.30" stroke="#000" stroke-width="1.0" />
<text transform="translate(486.99 345.00) scale(1.05 1)" font-size="6.667" text-anchor="middle" font-weight="normal" stroke="#000" stroke-width="0.45" >84</text>
<line x1="499.82" y1="335.10" x2="499.82" y2="336.90" stroke="#000" stroke-width="0.9" />
<line x1="512.96" y1="335.10" x2="512.96" y2="338.30" stroke="#000" stroke-width="1.0" />
<text transform="translate(513.26 345.00) scale(1.05 1)" font-size="6.667" text-anchor="middle" font-weight="normal" stroke="#000" stroke-width="0.45" >96</text>
<text transform="translate(283.50 271.00) rotate(-90) scale(1.05 1)" font-size="6.571" text-anchor="middle" stroke="#000" stroke-width="0.45">Proportion Surviving</text>
<line x1="308.00" y1="208.40" x2="308.00" y2="216.40" stroke="#000" stroke-width="1.8" stroke-dasharray="2.0 1.35"/>
<line x1="307.10" y1="216.40" x2="316.10" y2="216.40" stroke="#000" stroke-width="1.8" stroke-dasharray="2.0 1.35"/>
<line x1="316.10" y1="215.50" x2="316.10" y2="221.50" stroke="#000" stroke-width="1.8" stroke-dasharray="2.0 1.35"/>
<line x1="315.20" y1="221.50" x2="318.90" y2="221.50" stroke="#000" stroke-width="1.8" stroke-dasharray="2.0 1.35"/>
<line x1="318.90" y1="220.60" x2="318.90" y2="236.50" stroke="#000" stroke-width="1.8" stroke-dasharray="2.0 1.35"/>
<line x1="318.00" y1="236.50" x2="323.40" y2="236.50" stroke="#000" stroke-width="1.8" stroke-dasharray="2.0 1.35"/>
<line x1="323.40" y1="235.60" x2="323.40" y2="243.70" stroke="#000" stroke-width="1.8" stroke-dasharray="2.0 1.35"/>
<line x1="322.50" y1="243.70" x2="351.30" y2="243.70" stroke="#000" stroke-width="1.8" stroke-dasharray="2.0 1.35"/>
<line x1="351.30" y1="242.80" x2="351.30" y2="250.80" stroke="#000" stroke-width="1.8" stroke-dasharray="2.0 1.35"/>
<line x1="350.40" y1="250.80" x2="490.80" y2="250.80" stroke="#000" stroke-width="1.8" stroke-dasharray="2.0 1.35"/>
<path d="M302.80 209.30 L481.00 209.30" fill="none" stroke="#000" stroke-width="1.75" stroke-linejoin="miter" />
<line x1="307.80" y1="207.30" x2="307.80" y2="208.80" stroke="#000" stroke-width="1.0" />
<line x1="312.00" y1="207.30" x2="312.00" y2="208.80" stroke="#000" stroke-width="1.0" />
<line x1="319.60" y1="207.30" x2="319.60" y2="208.80" stroke="#000" stroke-width="1.0" />
<line x1="373.00" y1="207.30" x2="373.00" y2="208.80" stroke="#000" stroke-width="1.0" />
<line x1="376.00" y1="207.30" x2="376.00" y2="208.80" stroke="#000" stroke-width="1.0" />
<line x1="379.00" y1="207.30" x2="379.00" y2="208.80" stroke="#000" stroke-width="1.0" />
<line x1="385.00" y1="207.30" x2="385.00" y2="208.80" stroke="#000" stroke-width="1.0" />
<line x1="413.00" y1="207.30" x2="413.00" y2="208.80" stroke="#000" stroke-width="1.0" />
<line x1="432.00" y1="207.30" x2="432.00" y2="208.80" stroke="#000" stroke-width="1.0" />
<line x1="438.00" y1="207.30" x2="438.00" y2="208.80" stroke="#000" stroke-width="1.0" />
<line x1="448.00" y1="207.30" x2="448.00" y2="208.80" stroke="#000" stroke-width="1.0" />
<line x1="481.00" y1="207.00" x2="481.00" y2="210.30" stroke="#000" stroke-width="0.9" />
<line x1="366.00" y1="249.00" x2="366.00" y2="250.30" stroke="#000" stroke-width="1.0" />
<line x1="370.00" y1="249.00" x2="370.00" y2="250.30" stroke="#000" stroke-width="1.0" />
<line x1="374.00" y1="249.00" x2="374.00" y2="250.30" stroke="#000" stroke-width="1.0" />
<line x1="379.00" y1="249.00" x2="379.00" y2="250.30" stroke="#000" stroke-width="1.0" />
<line x1="384.00" y1="249.00" x2="384.00" y2="250.30" stroke="#000" stroke-width="1.0" />
<line x1="390.00" y1="249.00" x2="390.00" y2="250.30" stroke="#000" stroke-width="1.0" />
<line x1="397.00" y1="249.00" x2="397.00" y2="250.30" stroke="#000" stroke-width="1.0" />
<line x1="404.00" y1="249.00" x2="404.00" y2="250.30" stroke="#000" stroke-width="1.0" />
<line x1="412.00" y1="249.00" x2="412.00" y2="250.30" stroke="#000" stroke-width="1.0" />
<line x1="420.00" y1="249.00" x2="420.00" y2="250.30" stroke="#000" stroke-width="1.0" />
<line x1="428.00" y1="249.00" x2="428.00" y2="250.30" stroke="#000" stroke-width="1.0" />
<line x1="436.00" y1="249.00" x2="436.00" y2="250.30" stroke="#000" stroke-width="1.0" />
<line x1="444.00" y1="249.00" x2="444.00" y2="250.30" stroke="#000" stroke-width="1.0" />
<line x1="452.00" y1="249.00" x2="452.00" y2="250.30" stroke="#000" stroke-width="1.0" />
<line x1="460.00" y1="249.00" x2="460.00" y2="250.30" stroke="#000" stroke-width="1.0" />
<line x1="490.80" y1="248.40" x2="490.80" y2="251.80" stroke="#000" stroke-width="0.9" />
<line x1="346.50" y1="283.40" x2="360.00" y2="283.40" stroke="#000" stroke-width="1.8" />
<line x1="346.50" y1="289.50" x2="360.00" y2="289.50" stroke="#000" stroke-width="1.8" stroke-dasharray="2 1.35"/>
<text transform="translate(363.40 284.70) scale(1.05 1)" font-size="5.048" text-anchor="start" font-weight="normal" stroke="#000" stroke-width="0.3" >Age &lt; 50</text>
<text transform="translate(363.40 291.10) scale(1.05 1)" font-size="5.048" text-anchor="start" font-weight="normal" stroke="#000" stroke-width="0.3" >Age &gt;= 50</text>
<text transform="translate(275.00 344.70) scale(1.05 1)" font-size="6.667" text-anchor="start" font-weight="normal" stroke="#000" stroke-width="0.45" >Months</text>
<text transform="translate(275.50 353.00) scale(1.05 1)" font-size="5.143" text-anchor="start" font-weight="normal" stroke="#000" stroke-width="0.3" >At Risk</text>
<text transform="translate(275.50 358.00) scale(1.05 1)" font-size="5.143" text-anchor="start" font-weight="normal" stroke="#000" stroke-width="0.3" >Age&lt;50:</text>
<text transform="translate(275.50 365.40) scale(1.05 1)" font-size="5.143" text-anchor="start" font-weight="normal" stroke="#000" stroke-width="0.3" >At Risk</text>
<text transform="translate(275.50 370.70) scale(1.05 1)" font-size="5.143" text-anchor="start" font-weight="normal" stroke="#000" stroke-width="0.3" >Age&gt;=50:</text>
<text transform="translate(305.00 358.00) scale(1.05 1)" font-size="6.667" text-anchor="middle" font-weight="normal" stroke="#000" stroke-width="0.45" >11</text>
<text transform="translate(329.67 358.00) scale(1.05 1)" font-size="6.667" text-anchor="middle" font-weight="normal" stroke="#000" stroke-width="0.45" >9</text>
<text transform="translate(355.94 358.00) scale(1.05 1)" font-size="6.667" text-anchor="middle" font-weight="normal" stroke="#000" stroke-width="0.45" >9</text>
<text transform="translate(382.21 358.00) scale(1.05 1)" font-size="6.667" text-anchor="middle" font-weight="normal" stroke="#000" stroke-width="0.45" >5</text>
<text transform="translate(408.48 358.00) scale(1.05 1)" font-size="6.667" text-anchor="middle" font-weight="normal" stroke="#000" stroke-width="0.45" >4</text>
<text transform="translate(434.75 358.00) scale(1.05 1)" font-size="6.667" text-anchor="middle" font-weight="normal" stroke="#000" stroke-width="0.45" >2</text>
<text transform="translate(461.02 358.00) scale(1.05 1)" font-size="6.667" text-anchor="middle" font-weight="normal" stroke="#000" stroke-width="0.45" >1</text>
<text transform="translate(487.29 358.00) scale(1.05 1)" font-size="6.667" text-anchor="middle" font-weight="normal" stroke="#000" stroke-width="0.45" >0</text>
<text transform="translate(304.20 370.50) scale(1.05 1)" font-size="6.667" text-anchor="middle" font-weight="normal" stroke="#000" stroke-width="0.45" >21</text>
<text transform="translate(329.67 370.50) scale(1.05 1)" font-size="6.667" text-anchor="middle" font-weight="normal" stroke="#000" stroke-width="0.45" >13</text>
<text transform="translate(355.94 370.50) scale(1.05 1)" font-size="6.667" text-anchor="middle" font-weight="normal" stroke="#000" stroke-width="0.45" >12</text>
<text transform="translate(382.21 370.50) scale(1.05 1)" font-size="6.667" text-anchor="middle" font-weight="normal" stroke="#000" stroke-width="0.45" >8</text>
<text transform="translate(408.48 370.50) scale(1.05 1)" font-size="6.667" text-anchor="middle" font-weight="normal" stroke="#000" stroke-width="0.45" >5</text>
<text transform="translate(434.75 370.50) scale(1.05 1)" font-size="6.667" text-anchor="middle" font-weight="normal" stroke="#000" stroke-width="0.45" >3</text>
<text transform="translate(461.02 370.50) scale(1.05 1)" font-size="6.667" text-anchor="middle" font-weight="normal" stroke="#000" stroke-width="0.45" >1</text>
<text transform="translate(487.29 370.50) scale(1.05 1)" font-size="6.667" text-anchor="middle" font-weight="normal" stroke="#000" stroke-width="0.45" >1</text>
</g>
</svg>
</body>
</html>
